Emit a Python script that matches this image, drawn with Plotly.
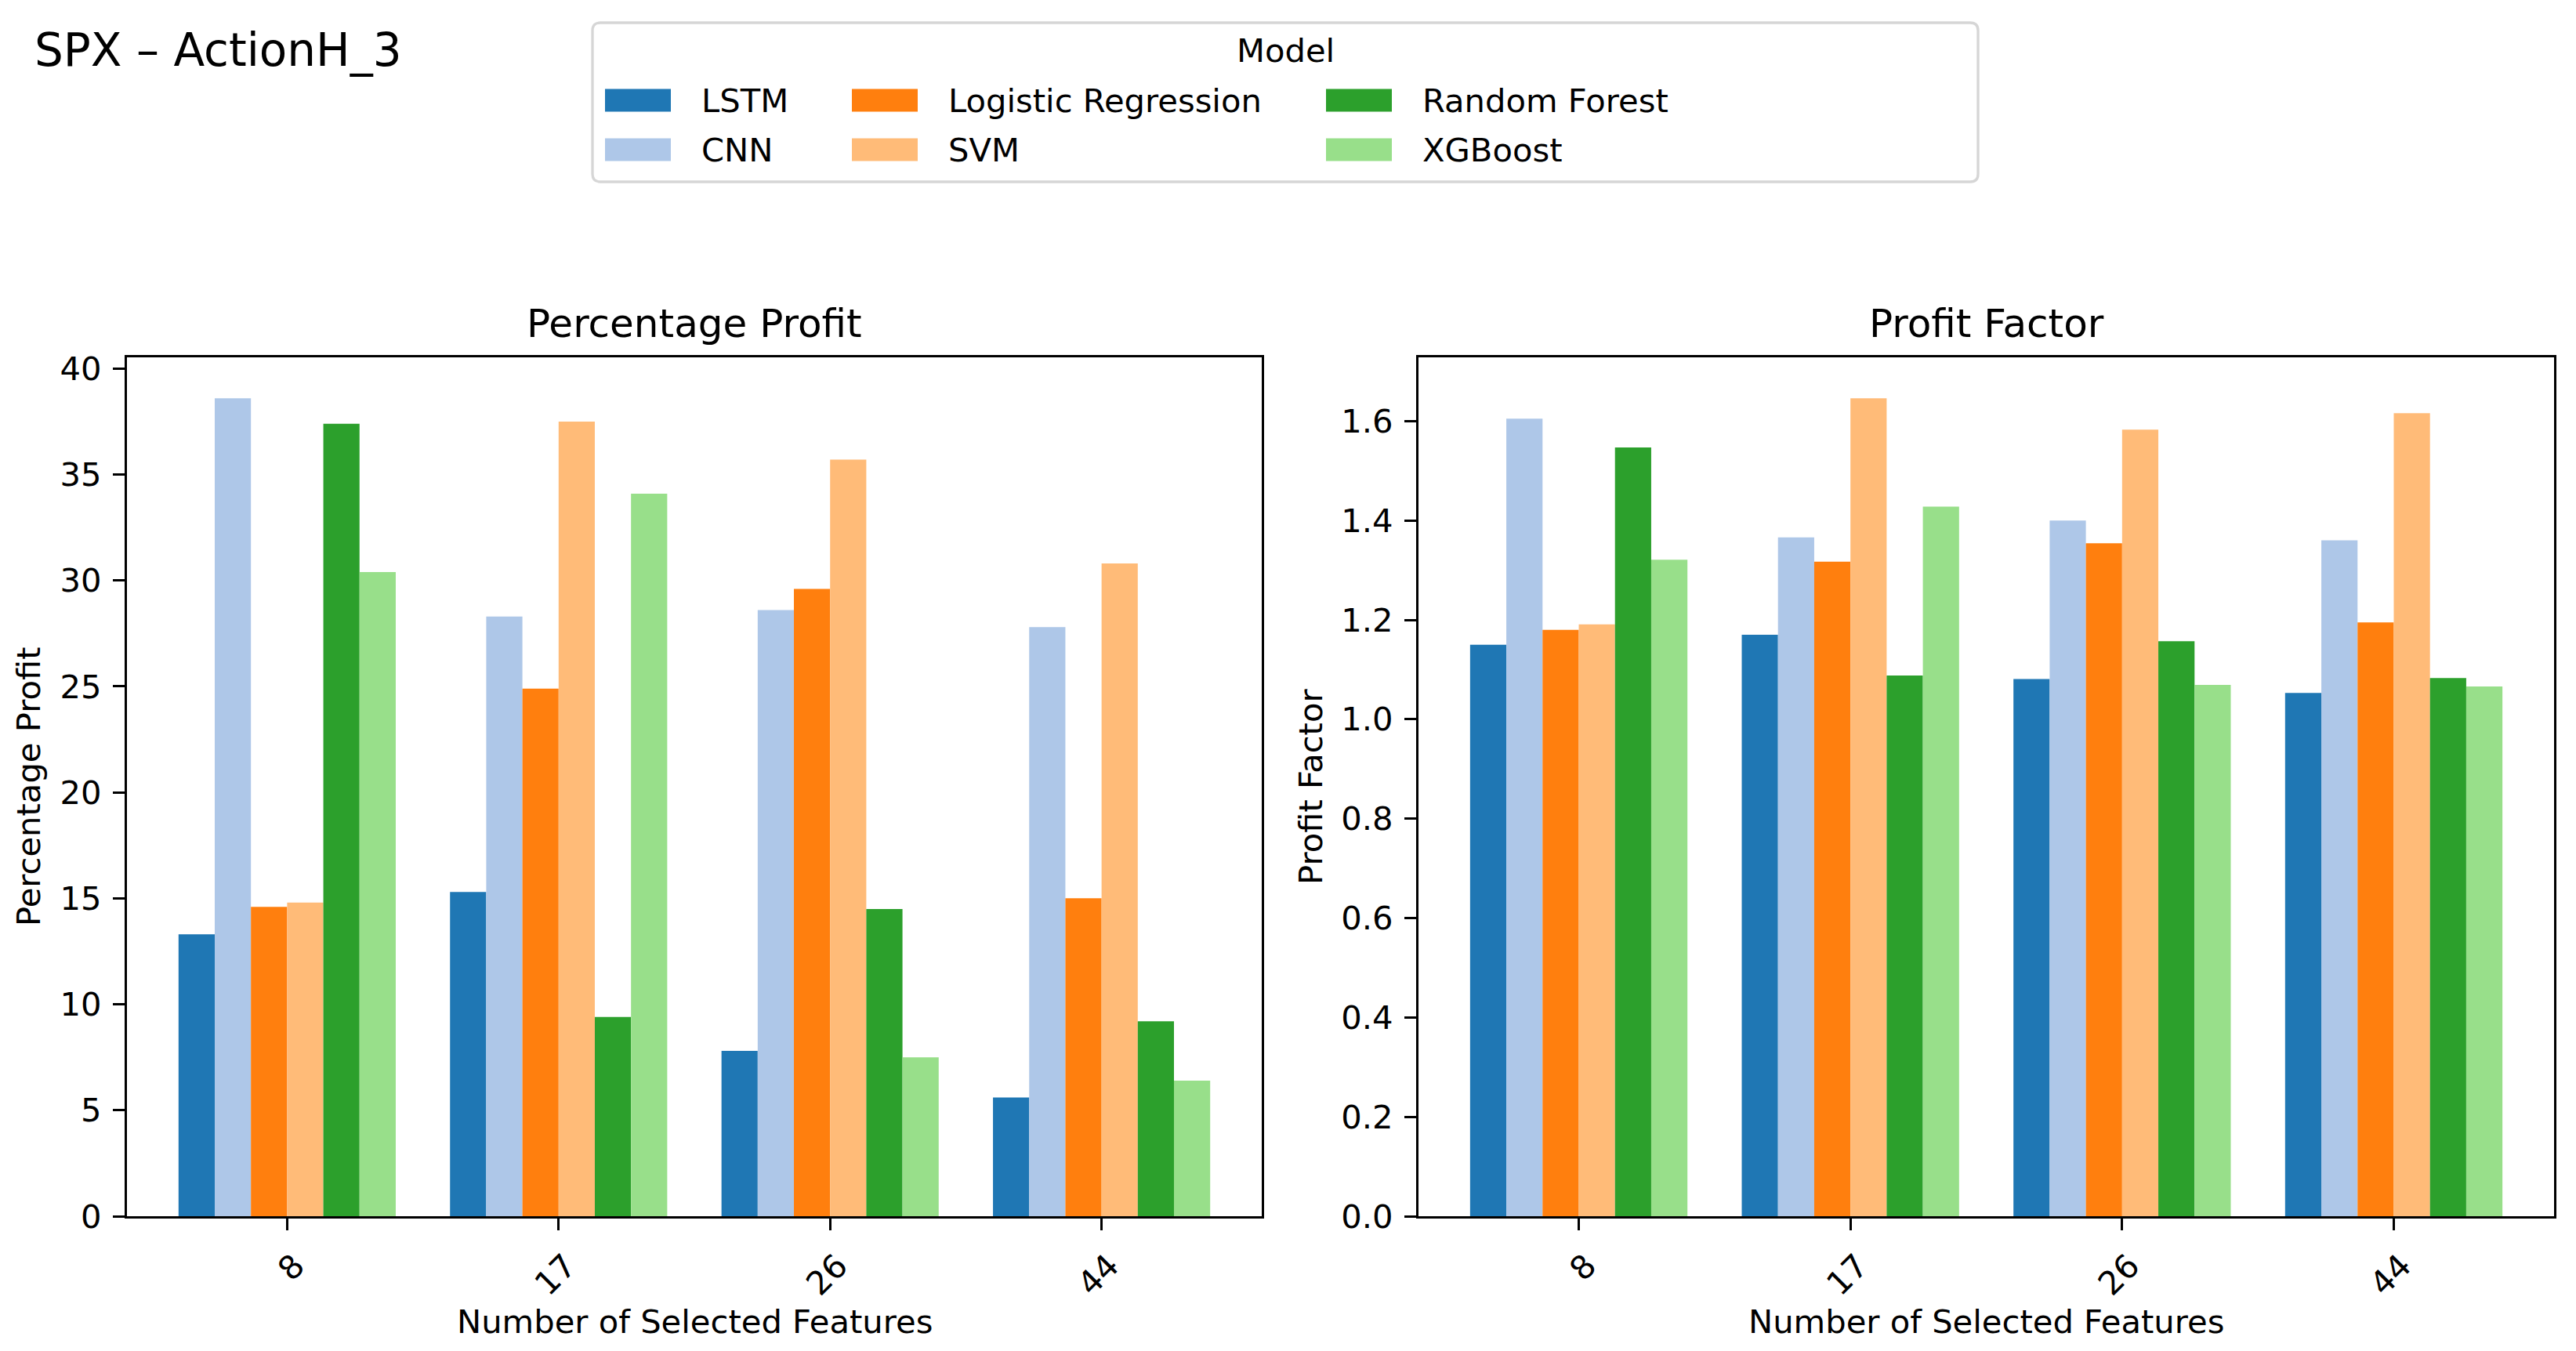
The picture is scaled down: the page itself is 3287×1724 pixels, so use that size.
import plotly.graph_objects as go

W, H = 3287, 1724

features = ["8", "17", "26", "44"]
models = ["LSTM", "CNN", "Logistic Regression", "SVM", "Random Forest", "XGBoost"]
colors = ["#1f77b4", "#aec7e8", "#ff7f0e", "#ffbb78", "#2ca02c", "#98df8a"]

# Percentage Profit
pct_lstm = [13.3, 15.3, 7.8, 5.6]
pct_cnn = [38.6, 28.3, 28.6, 27.8]
pct_lr = [14.6, 24.9, 29.6, 15.0]
pct_svm = [14.8, 37.5, 35.7, 30.8]
pct_rf = [37.4, 9.4, 14.5, 9.2]
pct_xgb = [30.4, 34.1, 7.5, 6.4]

# Profit Factor
pf_lstm = [1.150, 1.170, 1.081, 1.053]
pf_cnn = [1.605, 1.366, 1.400, 1.360]
pf_lr = [1.180, 1.317, 1.354, 1.195]
pf_svm = [1.191, 1.646, 1.583, 1.616]
pf_rf = [1.547, 1.088, 1.157, 1.083]
pf_xgb = [1.321, 1.428, 1.069, 1.066]

pct_values = [pct_lstm, pct_cnn, pct_lr, pct_svm, pct_rf, pct_xgb]
pf_values = [pf_lstm, pf_cnn, pf_lr, pf_svm, pf_rf, pf_xgb]

pct_ticks = [0, 5, 10, 15, 20, 25, 30, 35, 40]
pf_ticks = [0.0, 0.2, 0.4, 0.6, 0.8, 1.0, 1.2, 1.4, 1.6]

FONT = "DejaVu Sans"
FS = 41.7


def px(x):
    return x / W


def py(y):
    return 1 - y / H


fig = go.Figure()
for name, color, vals in zip(models, colors, pct_values):
    fig.add_trace(go.Bar(x=features, y=vals, name=name, marker=dict(color=color, line=dict(width=0)),
                         xaxis="x", yaxis="y", showlegend=False))
for name, color, vals in zip(models, colors, pf_values):
    fig.add_trace(go.Bar(x=features, y=vals, name=name, marker=dict(color=color, line=dict(width=0)),
                         xaxis="x2", yaxis="y2", showlegend=False))

pct_max = max(max(v) for v in pct_values) * 1.05
pf_max = max(max(v) for v in pf_values) * 1.05

axis_common = dict(showline=True, linecolor="black", linewidth=3.3, mirror=True,
                   ticks="outside", ticklen=15, tickwidth=3.3, tickcolor="black",
                   showgrid=False, zeroline=False, automargin=False,
                   tickfont=dict(family=FONT, size=FS, color="black"))

ydom = [py(1552), py(456)]
fig.update_layout(
    template="none",
    width=W, height=H, autosize=False,
    margin=dict(l=0, r=0, t=0, b=0, pad=0),
    paper_bgcolor="white", plot_bgcolor="white",
    barmode="group", bargap=0.2, bargroupgap=0,
    showlegend=False,
    font=dict(family=FONT, size=FS, color="black"),
    xaxis=dict(domain=[px(162), px(1610)], type="category", range=[-0.59, 3.59],
               tickangle=-45, anchor="y", ticklabelshift=10, ticklabelstandoff=4, **axis_common),
    yaxis=dict(domain=ydom, range=[0, pct_max], tickvals=pct_ticks, anchor="x",
               ticklabelstandoff=6, **axis_common),
    xaxis2=dict(domain=[px(1810), px(3259)], type="category", range=[-0.59, 3.59],
                tickangle=-45, anchor="y2", ticklabelshift=10, ticklabelstandoff=4, **axis_common),
    yaxis2=dict(domain=ydom, range=[0, pf_max], tickvals=pf_ticks, tickformat=".1f", anchor="x2",
                ticklabelstandoff=6, **axis_common),
)

ann = []
# Figure title
ann.append(dict(text="SPX – ActionH_3", x=px(42), y=py(64), xref="paper", yref="paper",
                xanchor="left", yanchor="middle", showarrow=False,
                font=dict(family=FONT, size=58, color="black")))
# Subplot titles and x axis titles
for cx, t in [(886, "Percentage Profit"), (2534.5, "Profit Factor")]:
    ann.append(dict(text=t, x=px(cx), y=py(413), xref="paper", yref="paper",
                    xanchor="center", yanchor="middle", showarrow=False,
                    font=dict(family=FONT, size=50, color="black")))
    ann.append(dict(text="Number of Selected Features", x=px(cx), y=py(1686), xref="paper", yref="paper",
                    xanchor="center", yanchor="middle", showarrow=False,
                    font=dict(family=FONT, size=FS, color="black")))
# Y axis titles
for cx, t in [(37, "Percentage Profit"), (1673, "Profit Factor")]:
    ann.append(dict(text=t, x=px(cx), y=py(1004), xref="paper", yref="paper", textangle=-90,
                    xanchor="center", yanchor="middle", showarrow=False,
                    font=dict(family=FONT, size=FS, color="black")))

# Manual legend (matplotlib-style, 4 columns, filled column by column)
shapes = []
lx0, lx1, ly0, ly1 = 756, 2524, 29, 232
r = 10
path = (f"M {px(lx0 + r)},{py(ly0)} L {px(lx1 - r)},{py(ly0)} "
        f"Q {px(lx1)},{py(ly0)} {px(lx1)},{py(ly0 + r)} L {px(lx1)},{py(ly1 - r)} "
        f"Q {px(lx1)},{py(ly1)} {px(lx1 - r)},{py(ly1)} L {px(lx0 + r)},{py(ly1)} "
        f"Q {px(lx0)},{py(ly1)} {px(lx0)},{py(ly1 - r)} L {px(lx0)},{py(ly0 + r)} "
        f"Q {px(lx0)},{py(ly0)} {px(lx0 + r)},{py(ly0)} Z")
shapes.append(dict(type="path", path=path, xref="paper", yref="paper",
                   line=dict(color="#d6d6d6", width=3.3), fillcolor="rgba(255,255,255,0.8)", layer="above"))
ann.append(dict(text="Model", x=px((lx0 + lx1) / 2), y=py(64), xref="paper", yref="paper",
                xanchor="center", yanchor="middle", showarrow=False,
                font=dict(family=FONT, size=FS, color="black")))
col_patch_x = [772, 1087, 1692, 2213]
row_y = [128, 191]
for i, (name, color) in enumerate(zip(models, colors)):
    c, rr = divmod(i, 2)
    yc = row_y[rr]
    shapes.append(dict(type="rect", xref="paper", yref="paper",
                       x0=px(col_patch_x[c]), x1=px(col_patch_x[c] + 84),
                       y0=py(yc - 14.5), y1=py(yc + 14.5),
                       fillcolor=color, line=dict(width=0), layer="above"))
    ann.append(dict(text=name, x=px(col_patch_x[c] + 121), y=py(yc), xref="paper", yref="paper",
                    xanchor="left", yanchor="middle", showarrow=False,
                    font=dict(family=FONT, size=FS, color="black")))

fig.update_layout(annotations=ann, shapes=shapes)

fig.write_html("out.html", config={"displayModeBar": False},
               post_script="document.body.style.margin='0';document.body.style.overflow='hidden';")
